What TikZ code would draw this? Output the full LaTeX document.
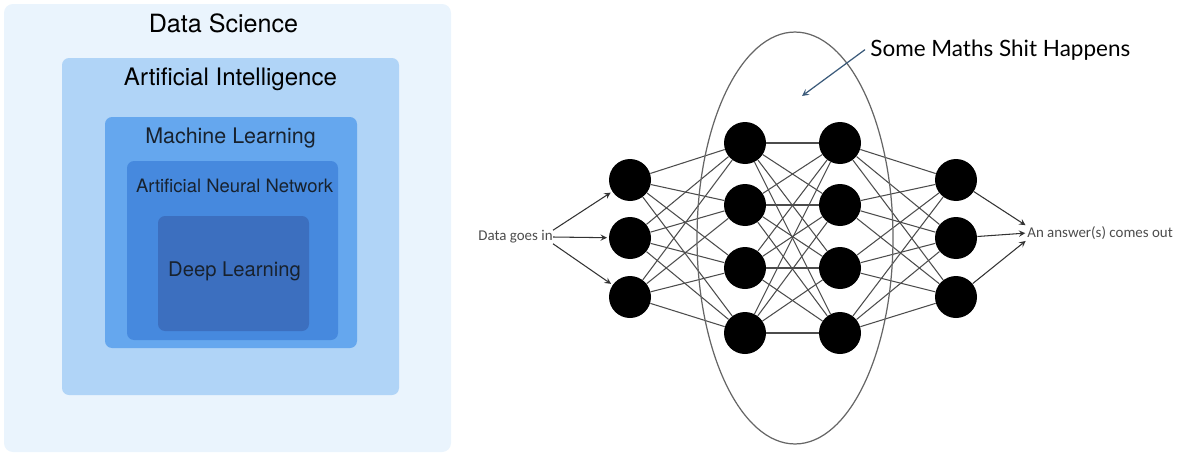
\documentclass[tikz,border=0pt]{standalone}
\usepackage{fontspec}
\setmainfont{TeX Gyre Heros}
\newfontfamily\calfont{Carlito}
\newfontfamily\aptfont{Lato}
\usepackage{tikz}
\usetikzlibrary{arrows,calc,positioning}
\definecolor{dsblue}{HTML}{EAF4FD}
\definecolor{aiblue}{HTML}{B0D4F7}
\definecolor{mlblue}{HTML}{65A7EE}
\definecolor{annblue}{HTML}{4689DE}
\definecolor{dlblue}{HTML}{3C6FBF}
\definecolor{txtdark}{HTML}{18222E}
\definecolor{notearrow}{HTML}{3A5A7A}
\tikzset{
  neuron/.style={circle,fill=black,minimum size=0.84cm,inner sep=0pt},
  wire/.style={black!70,line width=0.6pt},
  feed/.style={->,black!80,line width=0.6pt,shorten >=1pt},
  boxlbl/.style={anchor=base,inner sep=0pt,text=txtdark},
  netlbl/.style={inner sep=0pt,text=black!70,font=\calfont\fontsize{8.5}{10}\selectfont}
}
\begin{document}
\begin{tikzpicture}[x=0.02cm,y=-0.02cm,>=stealth]
        \useasboundingbox (0,0) rectangle (1200,457);
        %Boxes
        \fill[dsblue,rounded corners=5pt] (4,4) rectangle (451,452);
        \fill[aiblue,rounded corners=4pt] (62,58) rectangle (399,395);
        \fill[mlblue,rounded corners=4pt] (105,117) rectangle (357,348);
        \fill[annblue,rounded corners=4pt] (127,161) rectangle (338,340);
        \fill[dlblue,rounded corners=4pt] (158,216) rectangle (309,331);
        %Box labels
        \node[boxlbl,text=black,font=\fontsize{14.3}{16}\selectfont] (ds) at (223.5,32) {Data Science};
        \node[boxlbl,text=black,font=\fontsize{13.7}{16}\selectfont] (ai) at (230.5,85) {Artificial Intelligence};
        \node[boxlbl,font=\fontsize{12.2}{14}\selectfont] (ml) at (230.5,143) {Machine Learning};
        \node[boxlbl,font=\fontsize{10.5}{12}\selectfont] (ann) at (234.5,192) {Artificial Neural Network};
        \node[boxlbl,font=\fontsize{11.5}{13}\selectfont] (dl) at (234.5,276) {Deep Learning};
        %Neurons
        \foreach \y [count=\i] in {180,238,297}
            \node[neuron] (i\i) at (630,\y) {};
        \foreach \y [count=\i] in {143,205,268,333} {
            \node[neuron] (a\i) at (745,\y) {};
            \node[neuron] (b\i) at (840,\y) {};
        }
        \foreach \y [count=\i] in {180,238,297}
            \node[neuron] (o\i) at (956,\y) {};
        %Weights
        \foreach \i in {1,2,3}
            \foreach \j in {1,...,4}
                \draw[wire] (i\i) -- (a\j);
        \foreach \i in {1,...,4}
            \foreach \j in {1,...,4}
                \draw[wire] (a\i) -- (b\j);
        \foreach \i in {1,...,4}
            \foreach \j in {1,2,3}
                \draw[wire] (b\i) -- (o\j);
        %Hidden part
        \draw[black!60,line width=0.7pt] (795,238) ellipse [x radius=1.96cm, y radius=4.12cm];
        %In and out
        \node[netlbl,anchor=east] (din) at (553,237) {Data goes in};
        \node[netlbl,anchor=west] (dout) at (1027,233) {An answer(s) comes out};
        \draw[feed] (din.north east) -- (i1);
        \draw[feed] (din.east) -- (i2);
        \draw[feed] (din.south east) -- (i3);
        \draw[feed] (o1) -- (dout.north west);
        \draw[feed] (o2) -- (dout.west);
        \draw[feed] (o3) -- (dout.south west);
        %Note
        \node[anchor=base west,inner sep=0pt,font=\aptfont\fontsize{12.8}{15}\selectfont] (note) at (870,56) {Some Maths Shit Happens};
        \coordinate (notetip) at (802,96);
        \draw[->,notearrow,line width=0.7pt] ($(note.west)+(-5,0)$) -- (notetip);
\end{tikzpicture}
\end{document}
